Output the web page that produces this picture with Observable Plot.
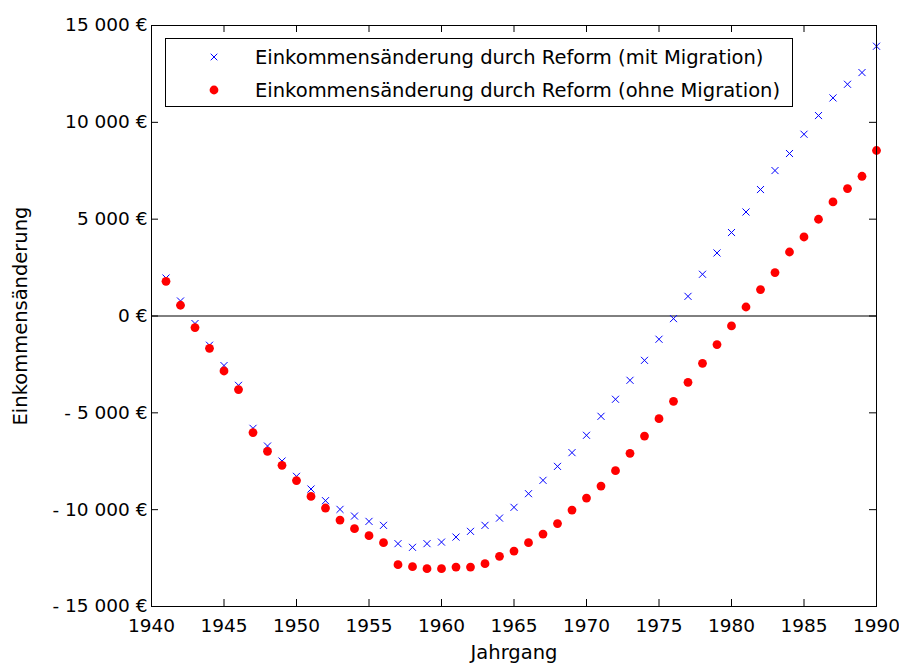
<!DOCTYPE html>
<html>
<head>
<meta charset="utf-8">
<script src="https://cdn.jsdelivr.net/npm/d3@7"></script>
<script src="https://cdn.jsdelivr.net/npm/@observablehq/plot@0.6"></script>
<style>
  html, body { margin: 0; padding: 0; background: #fff; }
  #wrap { position: relative; width: 899px; height: 664px; font-family: "DejaVu Sans", sans-serif; }
  #legend { position: absolute; left: 165px; top: 38px; width: 626px; height: 67px; border: 1px solid #000; background: #fff; }
  .row { position: absolute; left: 0; height: 30px; display: flex; align-items: center; font-size: 19.5px; color: #000; white-space: nowrap; }
  .row svg { position: absolute; left: 40px; }
  .row span { position: absolute; left: 89px; }
</style>
</head>
<body>
<div id="wrap"></div>
<script>
const years = [1941,1942,1943,1944,1945,1946,1947,1948,1949,1950,
  1951,1952,1953,1954,1955,1956,1957,1958,1959,1960,
  1961,1962,1963,1964,1965,1966,1967,1968,1969,1970,
  1971,1972,1973,1974,1975,1976,1977,1978,1979,1980,
  1981,1982,1983,1984,1985,1986,1987,1988,1989,1990];

const mitMigration = [1960,775,-390,-1510,-2560,-3580,-5800,-6715,-7490,-8280,
  -8935,-9535,-9985,-10330,-10605,-10810,-11755,-11945,-11755,-11675,
  -11415,-11120,-10810,-10435,-9880,-9175,-8485,-7765,-7055,-6160,
  -5180,-4300,-3320,-2290,-1200,-135,1015,2155,3255,4310,
  5370,6530,7510,8390,9385,10350,11260,11965,12570,13930];

const ohneMigration = [1790,555,-600,-1670,-2840,-3800,-6020,-6990,-7710,-8500,
  -9315,-9915,-10535,-10980,-11345,-11705,-12840,-12945,-13045,-13045,
  -12965,-12965,-12790,-12410,-12140,-11705,-11260,-10720,-10020,-9400,
  -8780,-7985,-7090,-6200,-5300,-4405,-3425,-2445,-1475,-515,
  465,1365,2240,3305,4080,4995,5890,6580,7215,8545];

const xTicks = [1940,1945,1950,1955,1960,1965,1970,1975,1980,1985,1990];
const yTicks = [-15000,-10000,-5000,0,5000,10000,15000];

const seriesLabels = ["Einkommensänderung durch Reform (mit Migration)",
                      "Einkommensänderung durch Reform (ohne Migration)"];
const xLabel = "Jahrgang";
const yLabel = "Einkommensänderung";

const fmtY = d => d === 0 ? "0 €" :
  (d < 0 ? "- " : "") + d3.format(",")(Math.abs(d)).replace(/,/g, " ") + " €";

const W = 899, H = 664, mL = 151, mR = 23, mT = 25, mB = 58;
const fw = W - mL - mR, fh = H - mT - mB, tk = 7;

const mit = years.map((y, i) => ({year: y, v: mitMigration[i]}));
const ohne = years.map((y, i) => ({year: y, v: ohneMigration[i]}));

const chart = Plot.plot({
  width: W, height: H,
  marginLeft: mL, marginRight: mR, marginTop: mT, marginBottom: mB,
  style: {fontFamily: "DejaVu Sans, sans-serif", fontSize: "18px", color: "#000", background: "#fff"},
  x: {domain: [1940, 1990]},
  y: {domain: [-15000, 15000]},
  marks: [
    Plot.ruleY([0], {stroke: "#000", strokeWidth: 1}),
    Plot.tickX(xTicks, {x: d => d, insetTop: fh - tk, stroke: "#000"}),
    Plot.tickX(xTicks, {x: d => d, insetBottom: fh - tk, stroke: "#000"}),
    Plot.tickY(yTicks, {y: d => d, insetRight: fw - tk, stroke: "#000"}),
    Plot.tickY(yTicks, {y: d => d, insetLeft: fw - tk, stroke: "#000"}),
    Plot.axisX(xTicks, {tickSize: 0, tickPadding: 12, tickFormat: d => String(d), label: null, fontSize: 18.5}),
    Plot.axisY(yTicks, {tickSize: 0, tickPadding: 4, tickFormat: fmtY, label: null, fontSize: 18.5}),
    Plot.dot(mit, {x: "year", y: "v", symbol: "times", r: 3.3, stroke: "#0000ff", strokeWidth: 1}),
    Plot.dot(ohne, {x: "year", y: "v", r: 4.4, fill: "#ff0000", stroke: "none"}),
    Plot.frame({stroke: "#000", strokeWidth: 1}),
    Plot.text([xLabel], {frameAnchor: "bottom", dy: 39, lineAnchor: "top", fontSize: 19.5, fill: "#000"}),
    Plot.text([yLabel], {frameAnchor: "left", dx: -131, rotate: -90, textAnchor: "middle", lineAnchor: "middle", fontSize: 19.5, fill: "#000"})
  ]
});

const wrap = document.getElementById("wrap");
wrap.appendChild(chart);

const legend = document.createElement("div");
legend.id = "legend";
legend.innerHTML = `
  <div class="row" style="top:3px">
    <svg width="16" height="16" viewBox="-8 -8 16 16"><path d="M-3.3,-3.3L3.3,3.3M-3.3,3.3L3.3,-3.3" stroke="#0000ff" stroke-width="1" fill="none"/></svg>
    <span>${seriesLabels[0]}</span>
  </div>
  <div class="row" style="top:36px">
    <svg width="16" height="16" viewBox="-8 -8 16 16"><circle r="4.4" fill="#ff0000"/></svg>
    <span>${seriesLabels[1]}</span>
  </div>`;
wrap.appendChild(legend);
</script>
</body>
</html>
